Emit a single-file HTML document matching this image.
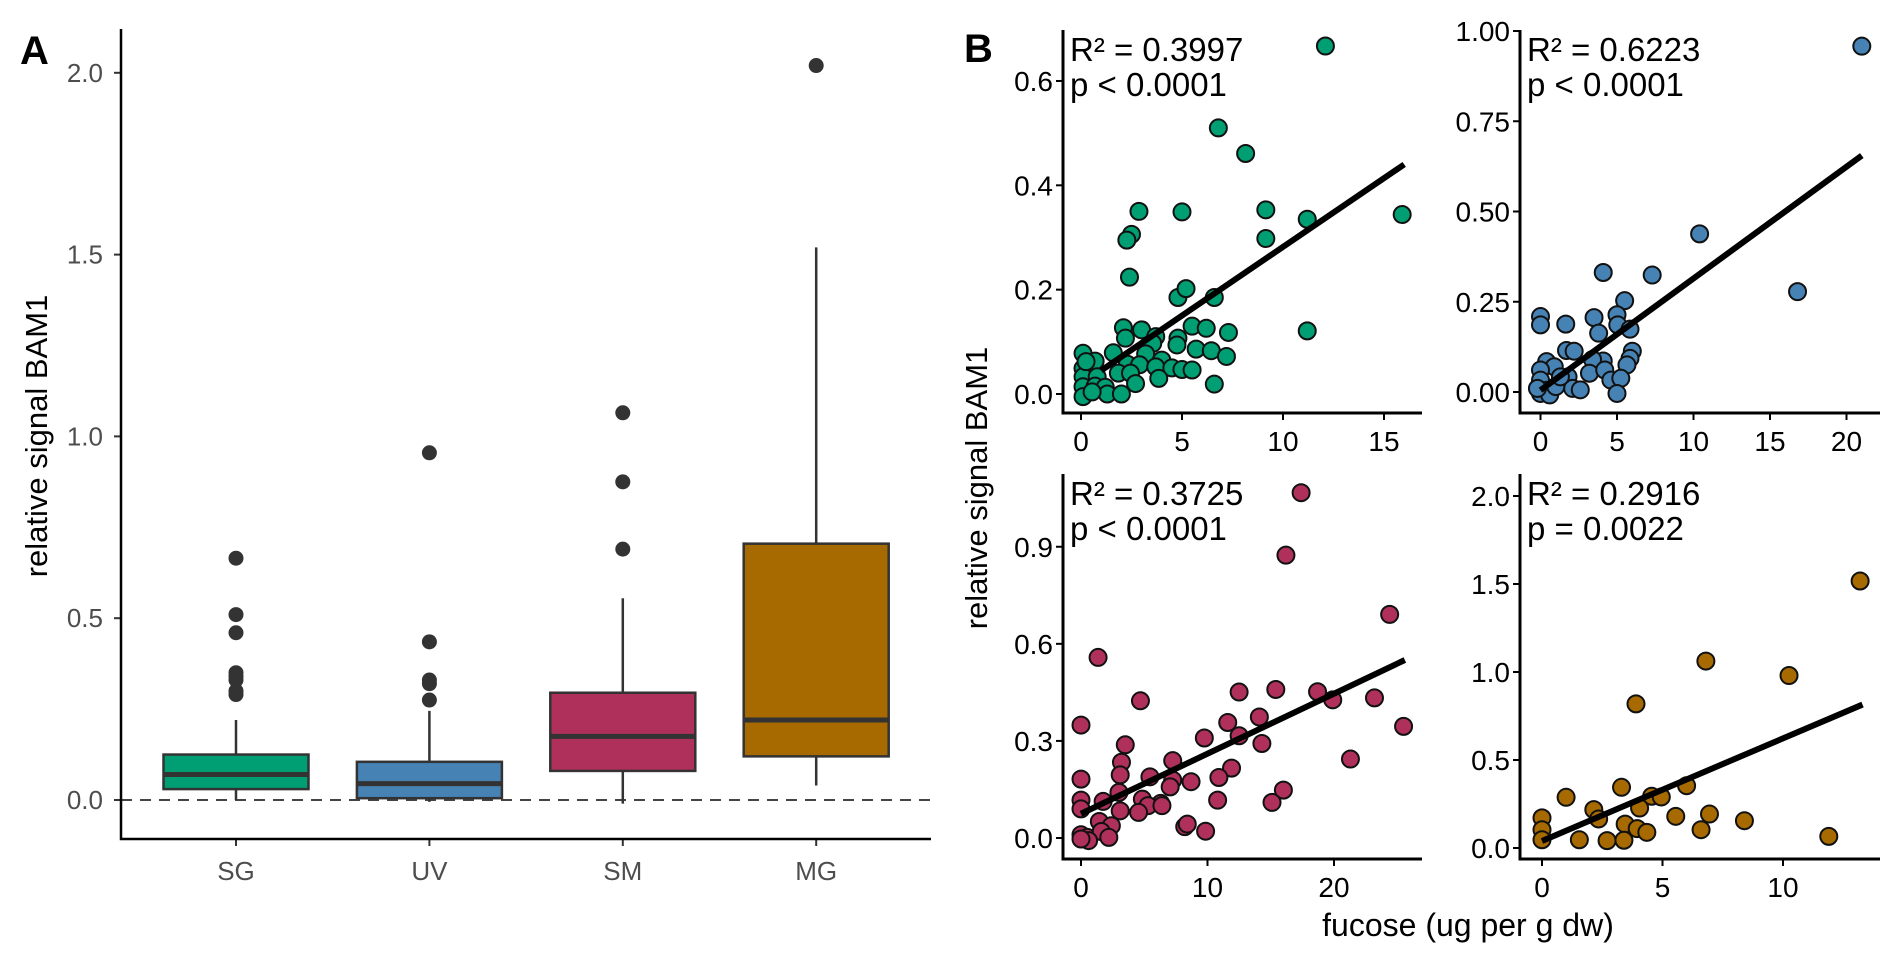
<!DOCTYPE html>
<html><head><meta charset="utf-8"><style>
html,body{margin:0;padding:0;background:#fff;}
svg{display:block;font-family:"Liberation Sans",Arial,sans-serif;}
</style></head><body>
<svg id="chart" width="1892" height="962" viewBox="0 0 1892 962" xmlns="http://www.w3.org/2000/svg"></svg>
<script>
// ---------- Panel A data ----------
const boxCategories = ["SG","UV","SM","MG"];
const boxLow   = [0.0, -0.005, -0.01, 0.04];
const boxQ1    = [0.03, 0.005, 0.08, 0.12];
const boxMed   = [0.07, 0.045, 0.175, 0.22];
const boxQ3    = [0.125, 0.105, 0.295, 0.705];
const boxHigh  = [0.22, 0.245, 0.555, 1.52];
const boxOutliers = [[0.665,0.51,0.46,0.35,0.34,0.33,0.30,0.29],[0.955,0.435,0.33,0.32,0.275],[1.065,0.875,0.69],[2.02]];
const boxYTicks = [0.0,0.5,1.0,1.5,2.0];
const boxYTickLabels = ["0.0","0.5","1.0","1.5","2.0"];

// ---------- Panel B data ----------
const sgX=[12.1,6.8,8.15,2.87,5.0,9.15,11.2,15.9,2.5,2.27,9.15,2.4,4.8,5.2,6.6,11.2,2.1,3.0,5.5,6.2,7.3,2.2,3.7,4.8,4.75,3.55,1.6,0.1,3.2,5.7,6.45,7.2,0.7,4.0,2.3,2.9,3.7,4.5,5.0,5.5,1.85,2.45,0.1,0.1,0.8,3.85,6.6,2.7,0.1,0.7,1.2,1.3,2.0,0.1,0.55,0.25];
const sgY=[0.667,0.51,0.461,0.35,0.349,0.353,0.335,0.344,0.306,0.295,0.298,0.224,0.185,0.202,0.185,0.121,0.127,0.123,0.130,0.126,0.118,0.107,0.11,0.107,0.094,0.097,0.079,0.078,0.077,0.086,0.083,0.072,0.063,0.065,0.057,0.056,0.052,0.05,0.047,0.046,0.04,0.04,0.049,0.033,0.033,0.03,0.019,0.02,0.014,0.015,0.013,0.0,0.0,-0.005,0.004,0.062];
const uvX=[21.0,10.4,4.1,7.3,16.8,5.5,0.0,0.0,1.65,3.5,5.0,5.05,5.85,3.8,1.7,2.2,6.0,5.85,4.1,3.4,0.4,5.65,0.9,3.2,4.2,1.8,0.0,0.0,4.6,5.25,2.1,2.6,5.0,0.4,0.0,0.6,1.0,1.3,-0.2];
const uvY=[0.958,0.438,0.331,0.324,0.278,0.253,0.209,0.186,0.188,0.206,0.214,0.186,0.174,0.163,0.115,0.113,0.113,0.093,0.086,0.09,0.084,0.075,0.07,0.052,0.061,0.042,0.061,0.033,0.033,0.038,0.01,0.006,-0.004,0.005,-0.004,-0.008,0.015,0.042,0.01];
const smX=[17.4,16.2,24.4,1.35,4.7,12.5,15.4,18.7,19.9,23.2,14.1,11.6,25.5,0.0,12.5,9.75,3.5,14.3,21.3,3.2,7.25,11.9,0.0,3.1,5.45,10.9,7.25,8.7,7.05,16.0,3.0,0.0,1.75,4.85,6.3,10.8,15.1,5.3,6.4,3.1,4.55,0.0,1.45,2.4,8.2,8.4,9.85,0.0,0.5,1.6,2.2,0.6,0.0];
const smY=[1.067,0.874,0.691,0.558,0.424,0.451,0.459,0.452,0.427,0.433,0.374,0.357,0.345,0.349,0.316,0.309,0.288,0.292,0.244,0.234,0.239,0.216,0.182,0.195,0.189,0.187,0.179,0.174,0.158,0.148,0.141,0.117,0.113,0.12,0.107,0.117,0.11,0.1,0.1,0.084,0.079,0.09,0.051,0.038,0.035,0.043,0.021,0.01,0.002,0.02,0.002,-0.008,-0.003];
const mgX=[13.2,6.8,10.25,3.9,6.0,3.3,1.0,4.55,4.95,0.0,2.15,2.35,4.05,6.95,5.55,8.4,3.45,3.95,4.35,6.6,0.0,0.0,1.55,2.7,3.4,11.9];
const mgY=[1.517,1.062,0.98,0.819,0.354,0.345,0.288,0.294,0.29,0.171,0.218,0.165,0.227,0.193,0.18,0.155,0.136,0.11,0.089,0.104,0.104,0.047,0.047,0.042,0.044,0.066];
const fitX0=[1.0,0.0,0.0,0.0];
const fitY0=[0.045,0.005,0.075,0.04];
const fitX1=[16.0,21.0,25.6,13.3];
const fitY1=[0.44,0.655,0.55,0.815];
const r2Labels=["R² = 0.3997","R² = 0.6223","R² = 0.3725","R² = 0.2916"];
const pLabels=["p < 0.0001","p < 0.0001","p < 0.0001","p = 0.0022"];
const xTickVals=[[0,5,10,15],[0,5,10,15,20],[0,10,20],[0,5,10]];
const yTickVals=[[0,0.2,0.4,0.6],[0,0.25,0.5,0.75,1.0],[0,0.3,0.6,0.9],[0,0.5,1.0,1.5,2.0]];
const yTickLabels=[["0.0","0.2","0.4","0.6"],["0.00","0.25","0.50","0.75","1.00"],["0.0","0.3","0.6","0.9"],["0.0","0.5","1.0","1.5","2.0"]];

const svg=document.getElementById('chart');
const NS="http://www.w3.org/2000/svg";
function mk(tag,attrs,parent){const e=document.createElementNS(NS,tag);for(const k in attrs)e.setAttribute(k,attrs[k]);(parent||svg).appendChild(e);return e;}
function txt(s,attrs,parent){const e=mk('text',attrs,parent);e.textContent=s;return e;}

// ---------- Panel A ----------
const colors=["#009E73","#4682B4","#B0305C","#A66A00"];
const ay=v=>800-v*363.6;
const ax=i=>236+i*193.4;
const gA=mk('g',{});


let t=txt("A",{x:20,y:64,'font-size':40,'font-weight':'bold',fill:'#000'},gA);

let zl=mk('line',{x1:121,x2:931,y1:ay(0),y2:ay(0),stroke:'#444','stroke-width':2,'stroke-dasharray':'11,8'},gA);

boxCategories.forEach((c,i)=>{
  const g=mk('g',{},gA);
  
  
  const x=ax(i),w=145;
  mk('line',{x1:x,x2:x,y1:ay(boxLow[i]),y2:ay(boxHigh[i]),stroke:'#333','stroke-width':2.5},g);
  mk('rect',{x:x-w/2,y:ay(boxQ3[i]),width:w,height:ay(boxQ1[i])-ay(boxQ3[i]),fill:colors[i],stroke:'#333','stroke-width':2.5},g);
  mk('line',{x1:x-w/2,x2:x+w/2,y1:ay(boxMed[i]),y2:ay(boxMed[i]),stroke:'#333','stroke-width':5},g);
  boxOutliers[i].forEach(v=>{mk('circle',{cx:x,cy:ay(v),r:7.5,fill:'#333'},g);});
  mk('line',{x1:x,x2:x,y1:839,y2:846,stroke:'#333','stroke-width':2},gA);
  const l=txt(c,{x:x,y:880,'text-anchor':'middle','font-size':26,fill:'#4d4d4d'},gA);
  
});
boxYTicks.forEach((v,k)=>{
  mk('line',{x1:114,x2:121,y1:ay(v),y2:ay(v),stroke:'#333','stroke-width':2},gA);
  const l=txt(boxYTickLabels[k],{x:103,y:ay(v)+9,'text-anchor':'end','font-size':26,fill:'#4d4d4d'},gA);
  
});
let axl=mk('path',{d:'M121,29 V839 H931',fill:'none',stroke:'#000','stroke-width':2.5},gA);

t=txt("relative signal BAM1",{transform:'translate(47,436) rotate(-90)','text-anchor':'middle','font-size':31,fill:'#000'},gA);


// ---------- Panel B ----------
const panels=[
 {ax:1063,ay:413,top:30,right:1422,x0:1081,xs:20.2,y0:394,ys:521.7,tb:61},
 {ax:1520,ay:413,top:30,right:1880,x0:1540.5,xs:15.3,y0:392,ys:361,tb:61},
 {ax:1063,ay:859,top:474,right:1422,x0:1081,xs:12.65,y0:838,ys:323.6,tb:505},
 {ax:1520,ay:859,top:474,right:1880,x0:1542,xs:24.1,y0:848,ys:176,tb:505}];
const seriesX=[sgX,uvX,smX,mgX], seriesY=[sgY,uvY,smY,mgY];
const pnames=['sg','uv','sm','mg'];
panels.forEach((p,i)=>{
  const g=mk('g',{});
  
  
  const X=v=>p.x0+v*p.xs, Y=v=>p.y0-v*p.ys;
  seriesX[i].forEach((xv,k)=>{
    const c=mk('circle',{cx:X(xv),cy:Y(seriesY[i][k]),r:8.5,fill:colors[i],stroke:'#111','stroke-width':2},g);
    
    
  });
  const fl=mk('line',{x1:X(fitX0[i]),y1:Y(fitY0[i]),x2:X(fitX1[i]),y2:Y(fitY1[i]),stroke:'#000','stroke-width':6},g);
  
  
  xTickVals[i].forEach(v=>{
    mk('line',{x1:X(v),x2:X(v),y1:p.ay,y2:p.ay+7,stroke:'#000','stroke-width':2},g);
    const l=txt(String(v),{x:X(v),y:p.ay+38,'text-anchor':'middle','font-size':28,fill:'#000'},g);
    
  });
  yTickVals[i].forEach((v,k)=>{
    mk('line',{x1:p.ax-7,x2:p.ax,y1:Y(v),y2:Y(v),stroke:'#000','stroke-width':2},g);
    const l=txt(yTickLabels[i][k],{x:p.ax-10,y:Y(v)+10,'text-anchor':'end','font-size':28,fill:'#000'},g);
    
  });
  const a=mk('path',{d:`M${p.ax},${p.top} V${p.ay} H${p.right}`,fill:'none',stroke:'#000','stroke-width':3},g);
  
  const r=txt(r2Labels[i],{x:p.ax+7,y:p.tb,'font-size':33,fill:'#000'},g);
  
  const pp=txt(pLabels[i],{x:p.ax+7,y:p.tb+35,'font-size':33,fill:'#000'},g);
  
});
t=txt("B",{x:964,y:62,'font-size':40,'font-weight':'bold',fill:'#000'});

t=txt("relative signal BAM1",{transform:'translate(987,488) rotate(-90)','text-anchor':'middle','font-size':31,fill:'#000'});

t=txt("fucose (ug per g dw)",{x:1468,y:936,'text-anchor':'middle','font-size':32,fill:'#000'});

</script>
</body></html>
